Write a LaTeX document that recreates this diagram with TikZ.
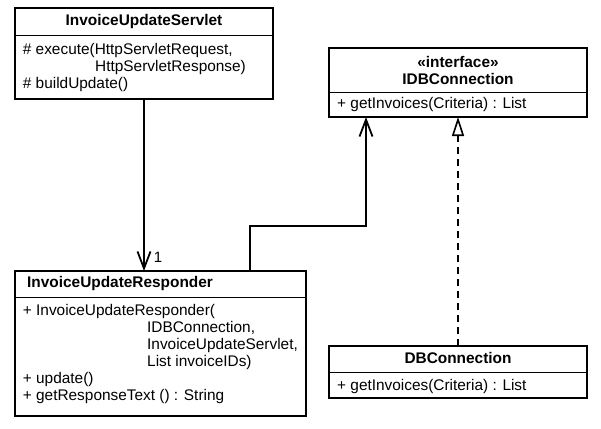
\documentclass[tikz,border=0pt]{standalone}
\usepackage{fontspec}
\setmainfont{Liberation Sans}
\usetikzlibrary{arrows.meta}

\tikzset{
  classframe/.style={draw, line width=1.9pt, inner sep=0pt, outer sep=0pt, anchor=north west},
  classtitle/.style={font=\fontsize{15.4}{17}\selectfont\bfseries, inner sep=0pt, anchor=base},
  classops/.style={font=\fontsize{15.4}{16.8}\selectfont, inner sep=0pt, anchor=base west},
  divider/.style={line width=0.9pt},
  navarrow/.style={line width=1.8pt, -{Straight Barb[length=17pt,width=13pt,line width=1.8pt]}},
  realize/.style={line width=1.8pt, dash pattern=on 7pt off 5pt, -{Triangle[open,length=19pt,width=12pt,line width=1.6pt]}}
}

\begin{document}
\begin{tikzpicture}[x=1pt,y=-1pt]
  \useasboundingbox (0,0) rectangle (601,428);

  % class frames
  \node[classframe, minimum width=258, minimum height=91] (servlet) at (15,8) {};
  \node[classframe, minimum width=258, minimum height=69] (idb) at (329,48) {};
  \node[classframe, minimum width=291, minimum height=145] (responder) at (15,271) {};
  \node[classframe, minimum width=258, minimum height=52] (dbconn) at (329,346) {};

  % compartments
  \draw[divider] ([yshift=-27pt]servlet.north west) -- ([yshift=-27pt]servlet.north east);
  \draw[divider] ([yshift=-44pt]idb.north west) -- ([yshift=-44pt]idb.north east);
  \draw[divider] ([yshift=-26pt]responder.north west) -- ([yshift=-26pt]responder.north east);
  \draw[divider] ([yshift=-26pt]dbconn.north west) -- ([yshift=-26pt]dbconn.north east);

  % names
  \node[classtitle] (servletname) at ([yshift=-18pt]servlet.north) {InvoiceUpdateServlet};
  \node[classtitle] (idbname) at ([yshift=-19pt]idb.north)
    {\begin{tabular}[t]{@{}c@{}}«interface»\\ IDBConnection\end{tabular}};
  \node[classtitle, anchor=base west] (respondername) at ([shift={(12pt,-16pt)}]responder.north west) {InvoiceUpdateResponder};
  \node[classtitle] (dbconnname) at ([yshift=-17pt]dbconn.north) {DBConnection};

  % operations
  \node[classops] (servletops) at ([shift={(7.7pt,-47pt)}]servlet.north west)
    {\begin{tabular}[t]{@{}l@{}}
      \# execute(HttpServletRequest,\\
      \hspace*{72.3pt}HttpServletResponse)\\
      \# buildUpdate()
    \end{tabular}};
  \node[classops] (idbops) at ([shift={(8pt,-60pt)}]idb.north west) {+ getInvoices(Criteria) : List};
  \node[classops, font=\fontsize{15.4}{17}\selectfont] (responderops) at ([shift={(7.7pt,-44pt)}]responder.north west)
    {\begin{tabular}[t]{@{}l@{}}
      + InvoiceUpdateResponder(\\
      \hspace*{124.3pt}IDBConnection,\\
      \hspace*{124.3pt}InvoiceUpdateServlet,\\
      \hspace*{124.3pt}List invoiceIDs)\\
      + update()\\
      + getResponseText () : String
    \end{tabular}};
  \node[classops] (dbconnops) at ([shift={(8pt,-44pt)}]dbconn.north west) {+ getInvoices(Criteria) : List};

  % connectors
  \draw[navarrow] (servlet.south) -- (servlet.south |- responder.north)
    node[classops, font=\fontsize{15}{17}\selectfont, pos=1, xshift=9pt, yshift=9pt] (mult) {1};
  \coordinate (kneeA) at (250,226);
  \coordinate (kneeB) at (366,226);
  \draw[navarrow] (responder.north -| kneeA) -- (kneeA) -- (kneeB) -- (kneeB |- idb.south);
  \draw[realize] (dbconn.north) -- (idb.south);
\end{tikzpicture}
\end{document}
